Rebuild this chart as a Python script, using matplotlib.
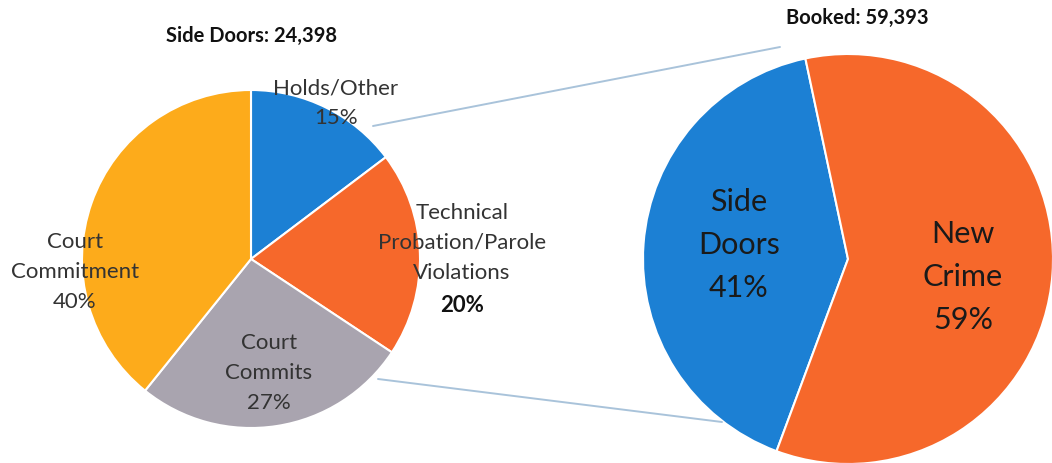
import matplotlib
matplotlib.use("Agg")
import matplotlib.pyplot as plt

plt.rcParams["font.family"] = ["Lato", "DejaVu Sans"]

# Breakdown of side-door bookings
side_labels = ["Holds/Other", "Technical\nProbation/Parole\nViolations", "Court\nCommits", "Court\nCommitment"]
side_values = [15, 20, 27, 40]
side_colors = ["#1C80D4", "#F6682B", "#A9A4AF", "#FDAB1B"]
side_total = "24,398"

# All bookings
booked_labels = ["Side\nDoors", "New\nCrime"]
booked_values = [41, 59]
booked_colors = ["#1C80D4", "#F6682B"]
booked_total = "59,393"

W, H = 1052, 464
fig = plt.figure(figsize=(W / 100, H / 100), dpi=100)
ax = fig.add_axes([0, 0, 1, 1])


def py(y):
    """Convert a top-down pixel row into the axes' bottom-up coordinate."""
    return H - y


# Left pie: starts at 12 o'clock and runs clockwise
lc, lr = (251, py(260)), 169
ax.pie(side_values, colors=side_colors, startangle=90, counterclock=False,
       center=lc, radius=lr, frame=True,
       wedgeprops=dict(edgecolor="white", linewidth=1.5))

# Right pie
rc, rr = (848, py(260)), 205
ax.pie(booked_values, colors=booked_colors, startangle=102, counterclock=True,
       center=rc, radius=rr, frame=True,
       wedgeprops=dict(edgecolor="white", linewidth=1.5))

# Connector lines from the left pie to the right pie
line_kw = dict(color="#A9C3DA", linewidth=1.4, solid_capstyle="round")
ax.plot([373, 780], [py(127), py(48)], **line_kw)
ax.plot([378, 722], [py(380), py(423)], **line_kw)

# Titles
ax.text(251, py(36), f"Side Doors: {side_total}", ha="center", va="center",
        fontsize=14.5, fontweight="bold", color="#111111")
ax.text(857, py(18), f"Booked: {booked_total}", ha="center", va="center",
        fontsize=14.5, fontweight="bold", color="#111111")

# Left pie labels
lab_kw = dict(ha="center", va="center", fontsize=16, color="#333333", linespacing=1.6)
ax.text(336, py(103), f"{side_labels[0]}\n{side_values[0]}%", **lab_kw)
ax.text(462, py(243), side_labels[1], **lab_kw)
ax.text(462, py(305), f"{side_values[1]}%", ha="center", va="center",
        fontsize=16, fontweight="bold", color="#111111")
ax.text(269, py(373), f"{side_labels[2]}\n{side_values[2]}%", **lab_kw)
ax.text(75, py(272), f"{side_labels[3]}\n{side_values[3]}%", **lab_kw)

# Right pie labels
big_kw = dict(ha="center", va="center", fontsize=22, color="#1a1a1a", linespacing=1.65)
ax.text(739, py(245), f"{booked_labels[0]}\n{booked_values[0]}%", **big_kw)
ax.text(963, py(277), f"{booked_labels[1]}\n{booked_values[1]}%", **big_kw)

ax.set_xlim(0, W)
ax.set_ylim(0, H)
ax.set_aspect("equal")
ax.axis("off")

fig.savefig("out.png", dpi=100, facecolor="white")
